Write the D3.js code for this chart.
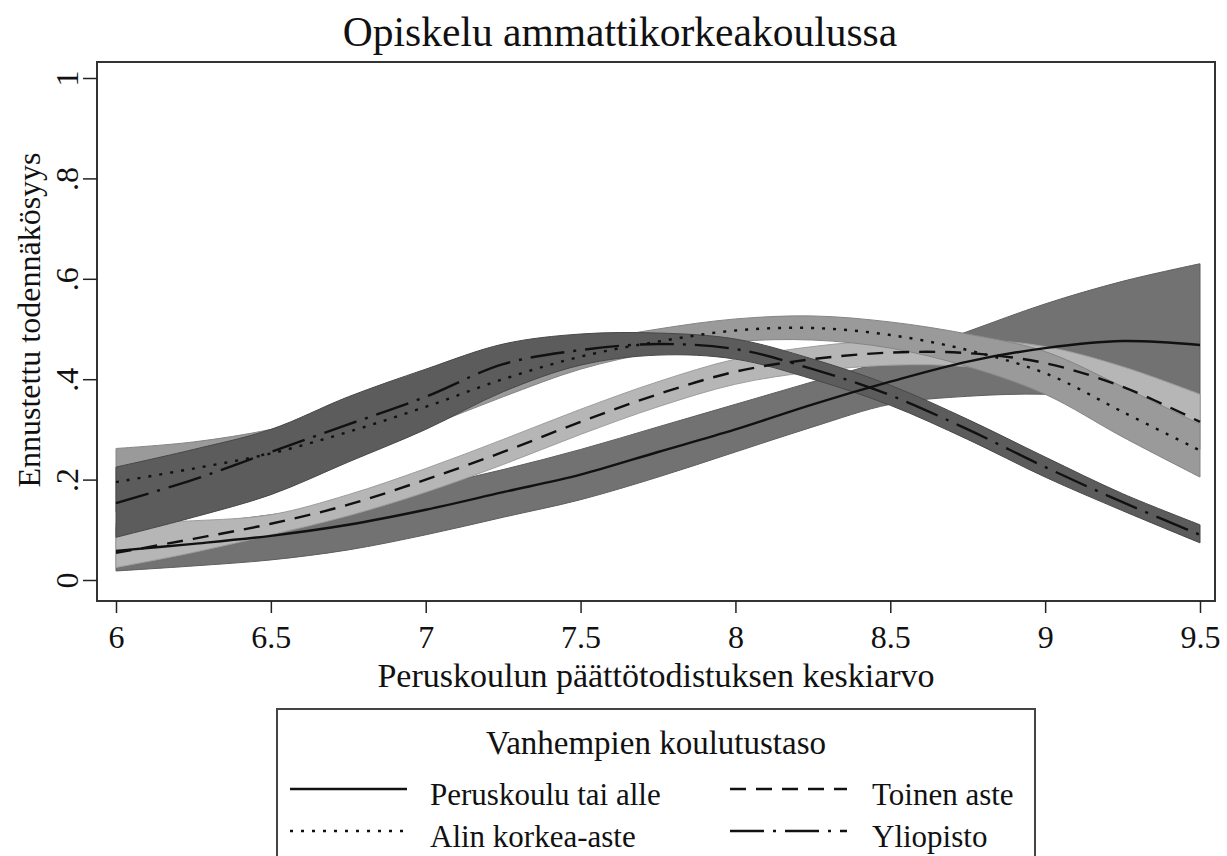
<!DOCTYPE html>
<html>
<head>
<meta charset="utf-8">
<script src="https://cdn.jsdelivr.net/npm/d3@7"></script>
<style>
  body { margin: 0; background: #fff; }
  svg { display: block; }
  svg text { font-family: "Liberation Serif", "Times New Roman", Times, "DejaVu Serif", serif; fill: #111; }
</style>
</head>
<body>
<svg id="main" width="1227" height="856"></svg>
<script>
// keskiarvot x-akselilla
const gpa = [6, 6.25, 6.5, 6.75, 7, 7.25, 7.5, 7.75, 8, 8.25, 8.5, 8.75, 9, 9.25, 9.5];

// Peruskoulu tai alle
const peruskouluFit = [0.058, 0.072, 0.088, 0.11, 0.14, 0.175, 0.21, 0.255, 0.30, 0.35, 0.395, 0.435, 0.462, 0.476, 0.468];
const peruskouluLo = [0.018, 0.028, 0.04, 0.06, 0.09, 0.125, 0.16, 0.205, 0.255, 0.305, 0.35, 0.366, 0.37, 0.36, 0.31];
const peruskouluHi = [0.105, 0.113, 0.13, 0.155, 0.185, 0.22, 0.26, 0.305, 0.35, 0.395, 0.44, 0.495, 0.55, 0.595, 0.63];

// Toinen aste
const toinenFit = [0.054, 0.082, 0.112, 0.15, 0.2, 0.255, 0.315, 0.37, 0.415, 0.44, 0.453, 0.452, 0.432, 0.385, 0.315];
const toinenLo = [0.025, 0.055, 0.09, 0.128, 0.175, 0.23, 0.29, 0.345, 0.39, 0.415, 0.428, 0.425, 0.40, 0.345, 0.26];
const toinenHi = [0.114, 0.118, 0.13, 0.17, 0.222, 0.28, 0.34, 0.395, 0.44, 0.465, 0.478, 0.48, 0.465, 0.425, 0.37];

// Alin korkea-aste
const alinFit = [0.195, 0.222, 0.252, 0.295, 0.345, 0.40, 0.445, 0.475, 0.497, 0.502, 0.488, 0.458, 0.412, 0.335, 0.258];
const alinLo = [0.135, 0.17, 0.205, 0.25, 0.305, 0.365, 0.42, 0.455, 0.475, 0.478, 0.462, 0.425, 0.37, 0.285, 0.205];
const alinHi = [0.262, 0.275, 0.3, 0.34, 0.385, 0.435, 0.472, 0.5, 0.52, 0.526, 0.514, 0.49, 0.455, 0.385, 0.31];

// Yliopisto
const yliopistoFit = [0.153, 0.2, 0.255, 0.31, 0.365, 0.43, 0.458, 0.47, 0.46, 0.42, 0.368, 0.3, 0.225, 0.155, 0.09];
const yliopistoLo = [0.085, 0.125, 0.17, 0.235, 0.3, 0.375, 0.428, 0.448, 0.44, 0.4, 0.348, 0.28, 0.205, 0.138, 0.074];
const yliopistoHi = [0.225, 0.26, 0.3, 0.365, 0.42, 0.47, 0.49, 0.492, 0.48, 0.44, 0.388, 0.32, 0.245, 0.172, 0.11];

const xTicks = [6, 6.5, 7, 7.5, 8, 8.5, 9, 9.5];
const yTicks = [0, 0.2, 0.4, 0.6, 0.8, 1];
const yTickLabels = ['0', '.2', '.4', '.6', '.8', '1'];

const groups = ['Peruskoulu tai alle', 'Toinen aste', 'Alin korkea-aste', 'Yliopisto'];

const series = [
    { name: groups[0], fit: peruskouluFit, lo: peruskouluLo, hi: peruskouluHi, fill: '#727272', edge: '#5e5e5e', dash: null },
    { name: groups[1], fit: toinenFit, lo: toinenLo, hi: toinenHi, fill: '#b6b6b6', edge: '#9e9e9e', dash: '16,10' },
    { name: groups[2], fit: alinFit, lo: alinLo, hi: alinHi, fill: '#9a9a9a', edge: '#858585', dash: '3,8' },
    { name: groups[3], fit: yliopistoFit, lo: yliopistoLo, hi: yliopistoHi, fill: '#5c5c5c', edge: '#484848', dash: '34,9,3,9' }
];

const fontFamily = '"Liberation Serif", "Times New Roman", Times, "DejaVu Serif", serif';

const svg = d3.select('#main');

const frame = { left: 97, right: 1215, top: 62, bottom: 601 };
const x = d3.scaleLinear().domain([6, 9.5]).range([116, 1200]);
const y = d3.scaleLinear().domain([0, 1]).range([580, 78]);

// otsikko
svg.append('text')
    .attr('x', 620)
    .attr('y', 46)
    .attr('text-anchor', 'middle')
    .attr('font-family', fontFamily)
    .attr('font-size', 41.5)
    .text('Opiskelu ammattikorkeakoulussa');

// luottamusvälit
const area = d3.area()
    .x((d, i) => x(gpa[i]))
    .y0(d => y(d[0]))
    .y1(d => y(d[1]))
    .curve(d3.curveCatmullRom);

const line = d3.line()
    .x((d, i) => x(gpa[i]))
    .y(d => y(d))
    .curve(d3.curveCatmullRom);

const plot = svg.append('g');

plot.selectAll('path.band')
    .data(series)
    .join('path')
    .attr('class', 'band')
    .attr('d', s => area(s.lo.map((v, i) => [v, s.hi[i]])))
    .attr('fill', s => s.fill)
    .attr('stroke', s => s.edge)
    .attr('stroke-width', 1);

plot.selectAll('path.fit')
    .data(series)
    .join('path')
    .attr('class', 'fit')
    .attr('d', s => line(s.fit))
    .attr('fill', 'none')
    .attr('stroke', '#111')
    .attr('stroke-width', 2.4)
    .attr('stroke-dasharray', s => s.dash);

// kehys
svg.append('rect')
    .attr('x', frame.left)
    .attr('y', frame.top)
    .attr('width', frame.right - frame.left)
    .attr('height', frame.bottom - frame.top)
    .attr('fill', 'none')
    .attr('stroke', '#333')
    .attr('stroke-width', 2);

// akselit
const xAxis = svg.append('g')
    .attr('transform', `translate(0, ${frame.bottom})`)
    .call(d3.axisBottom(x).tickValues(xTicks).tickSize(12).tickPadding(12).tickFormat(d3.format('')));
xAxis.attr('font-family', fontFamily);
xAxis.select('.domain').remove();
xAxis.selectAll('line').attr('stroke', '#222').attr('stroke-width', 1.5);
xAxis.selectAll('text')
    .attr('font-family', fontFamily)
    .attr('font-size', 32)
    .attr('fill', '#111');

const yAxis = svg.append('g')
    .attr('transform', `translate(${frame.left}, 0)`)
    .call(d3.axisLeft(y).tickValues(yTicks).tickSize(14).tickFormat((d, i) => yTickLabels[i]));
yAxis.attr('font-family', fontFamily);
yAxis.select('.domain').remove();
yAxis.selectAll('line').attr('stroke', '#222').attr('stroke-width', 1.5);
yAxis.selectAll('text')
    .attr('font-family', fontFamily)
    .attr('font-size', 32)
    .attr('fill', '#111')
    .attr('text-anchor', 'middle')
    .attr('dy', null)
    .attr('x', null)
    .attr('transform', 'translate(-30, 0) rotate(-90)')
    .attr('y', 0)
    .attr('dominant-baseline', 'central');

svg.append('text')
    .attr('transform', 'translate(40, 320) rotate(-90)')
    .attr('text-anchor', 'middle')
    .attr('font-family', fontFamily)
    .attr('font-size', 32)
    .text('Ennustettu todennäkösyys');

svg.append('text')
    .attr('x', 656)
    .attr('y', 687)
    .attr('text-anchor', 'middle')
    .attr('font-family', fontFamily)
    .attr('font-size', 34)
    .text('Peruskoulun päättötodistuksen keskiarvo');

// selite
const legend = svg.append('g');
legend.append('rect')
    .attr('x', 277)
    .attr('y', 709)
    .attr('width', 758)
    .attr('height', 200)
    .attr('fill', '#fff')
    .attr('stroke', '#444')
    .attr('stroke-width', 2);

legend.append('text')
    .attr('x', 656)
    .attr('y', 754)
    .attr('text-anchor', 'middle')
    .attr('font-family', fontFamily)
    .attr('font-size', 33)
    .text('Vanhempien koulutustaso');

// rivien perusviivat
const legendPos = [
    { x: 290, y: 805 },
    { x: 730, y: 805 },
    { x: 290, y: 847 },
    { x: 730, y: 847 }
];

const items = legend.selectAll('g.item')
    .data(series)
    .join('g')
    .attr('class', 'item')
    .attr('transform', (d, i) => `translate(${legendPos[i].x}, ${legendPos[i].y})`);

items.append('line')
    .attr('x1', 0)
    .attr('x2', 117)
    .attr('y1', -16)
    .attr('y2', -16)
    .attr('stroke', '#111')
    .attr('stroke-width', 2.4)
    .attr('stroke-dasharray', d => d.dash);

items.append('text')
    .attr('x', (d, i) => i % 2 === 0 ? 140 : 142)
    .attr('y', 0)
    .attr('font-family', fontFamily)
    .attr('font-size', 31)
    .text(d => d.name);
</script>
</body>
</html>
